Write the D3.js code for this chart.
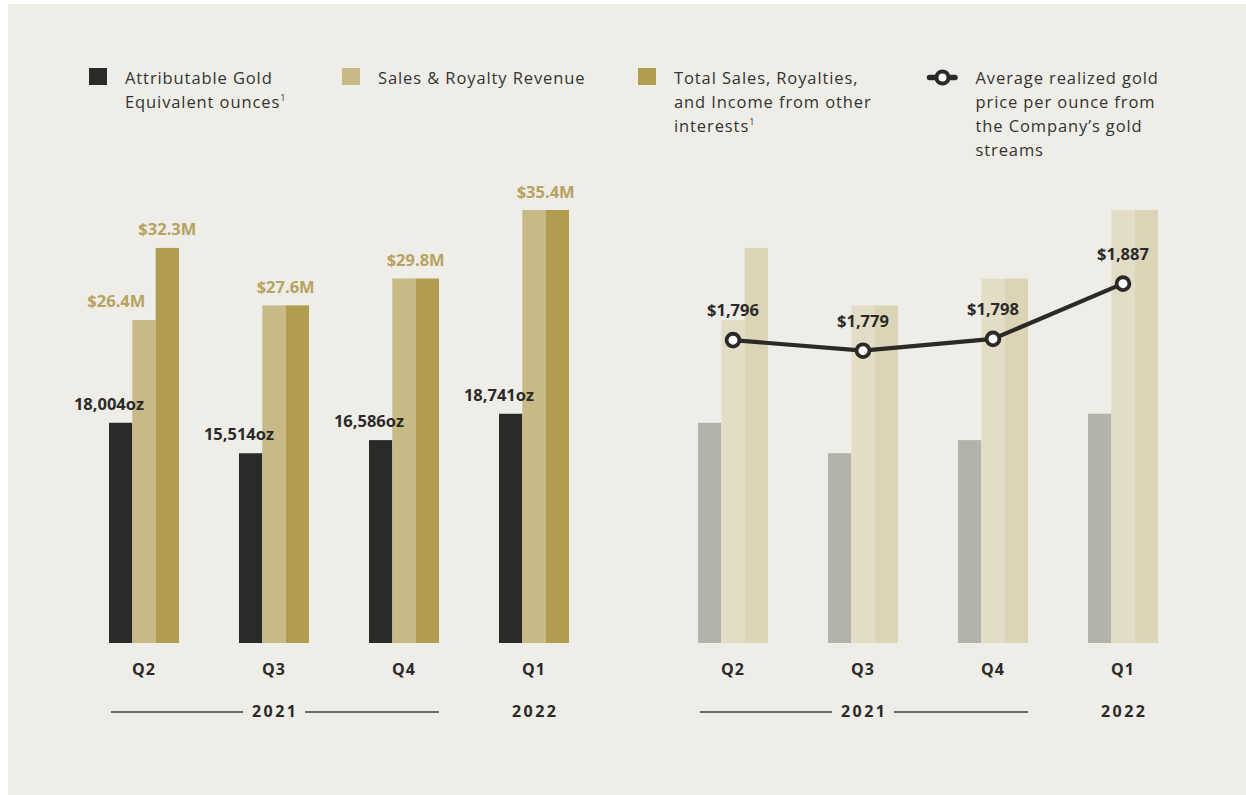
<!DOCTYPE html>
<html>
<head>
<meta charset="utf-8">
<script src="https://cdn.jsdelivr.net/npm/d3@7"></script>
<style>
  body { margin: 0; background: #fff; }
  svg { display: block; }
  text { font-family: "Open Sans", "Noto Sans", sans-serif; }
</style>
</head>
<body>
<svg id="chart" width="1246" height="795"></svg>
<script>
// data
var quarters = ["Q2", "Q3", "Q4", "Q1"];
var ounces = [18004, 15514, 16586, 18741];
var salesRoyalty = [26.4, 27.6, 29.8, 35.4];
var totalIncome = [32.3, 27.6, 29.8, 35.4];
var goldPrice = [1796, 1779, 1798, 1887];
var years = [
  { label: "2021", from: "Q2", to: "Q4", under: "Q3" },
  { label: "2022", from: null, to: null, under: "Q1" }
];
var legendItems = [
  { key: "oz", lines: ["Attributable Gold", "Equivalent ounces"], sup: true },
  { key: "rev", lines: ["Sales & Royalty Revenue"] },
  { key: "total", lines: ["Total Sales, Royalties,", "and Income from other", "interests"], sup: true },
  { key: "price", lines: ["Average realized gold", "price per ounce from", "the Company\u2019s gold", "streams"] }
];

var dark = "#2b2a28";
var labelGold = "#b6a35f";
var colours = {
  left: { oz: "#2b2a28", rev: "#c8ba86", total: "#b09d50" },
  right: { oz: "#b3b2ab", rev: "#e3ddc8", total: "#dbd5b6" }
};

var svg = d3.select("#chart");

// background panel
svg.append("rect")
  .attr("x", 8).attr("y", 4)
  .attr("width", 1238).attr("height", 791)
  .attr("fill", "#eeede8");

// scales
var baseline = 643;
var yRev = d3.scaleLinear().domain([0, 35.4]).range([baseline, 210]);
var yOz = d3.scaleLinear().domain([0, 35400]).range([baseline, 210]);
var yPrice = d3.scaleLinear().domain([1700, 1900]).range([399.7, 275.6]);
var inner = d3.scaleBand().domain(["oz", "rev", "total"]).range([0, 70]);

var panels = [
  { name: "left", x: d3.scaleBand().domain(quarters).range([109, 569]).paddingInner(60 / 130) },
  { name: "right", x: d3.scaleBand().domain(quarters).range([698, 1158]).paddingInner(60 / 130) }
];

panels.forEach(function(p) {
  var x = p.x;
  var col = colours[p.name];
  var g = svg.append("g");

  var groups = g.selectAll(".grp").data(quarters).enter().append("g")
    .attr("transform", function(d) { return "translate(" + x(d) + ",0)"; });

  groups.append("rect")
    .attr("x", inner("oz")).attr("width", inner.bandwidth())
    .attr("y", function(d, i) { return yOz(ounces[i]); })
    .attr("height", function(d, i) { return baseline - yOz(ounces[i]); })
    .attr("fill", col.oz);
  groups.append("rect")
    .attr("x", inner("rev")).attr("width", inner.bandwidth())
    .attr("y", function(d, i) { return yRev(salesRoyalty[i]); })
    .attr("height", function(d, i) { return baseline - yRev(salesRoyalty[i]); })
    .attr("fill", col.rev);
  groups.append("rect")
    .attr("x", inner("total")).attr("width", inner.bandwidth())
    .attr("y", function(d, i) { return yRev(totalIncome[i]); })
    .attr("height", function(d, i) { return baseline - yRev(totalIncome[i]); })
    .attr("fill", col.total);

  // quarter labels
  groups.append("text")
    .attr("x", x.bandwidth() / 2).attr("y", 675)
    .attr("text-anchor", "middle")
    .attr("font-size", 16).attr("font-weight", 700)
    .attr("letter-spacing", 1)
    .attr("fill", dark)
    .text(function(d) { return d; });

  // year labels with rules
  years.forEach(function(yr) {
    var cx = x(yr.under) + x.bandwidth() / 2;
    g.append("text")
      .attr("x", cx + 1.2).attr("y", 717)
      .attr("text-anchor", "middle")
      .attr("font-size", 16).attr("font-weight", 700)
      .attr("letter-spacing", 2.5)
      .attr("fill", dark)
      .text(yr.label);
    if (yr.from) {
      var x0 = x(yr.from) + 2, x1 = x(yr.to) + x.bandwidth();
      g.append("line").attr("x1", x0).attr("x2", cx - 31).attr("y1", 712).attr("y2", 712)
        .attr("stroke", "#3d3d3b").attr("stroke-width", 1.6);
      g.append("line").attr("x1", cx + 31).attr("x2", x1).attr("y1", 712).attr("y2", 712)
        .attr("stroke", "#3d3d3b").attr("stroke-width", 1.6);
    }
  });

  if (p.name === "left") {
    // ounce labels, centred on the left edge of the dark bar
    groups.append("text")
      .attr("x", inner("oz"))
      .attr("y", function(d, i) { return yOz(ounces[i]) - 13; })
      .attr("text-anchor", "middle")
      .attr("font-size", 16.5).attr("font-weight", 700)
      .attr("fill", dark)
      .text(function(d, i) { return d3.format(",")(ounces[i]) + "oz"; });

    // revenue labels
    groups.each(function(d, i) {
      var gg = d3.select(this);
      var fmt = function(v) { return "$" + d3.format(".1f")(v) + "M"; };
      if (salesRoyalty[i] !== totalIncome[i]) {
        gg.append("text")
          .attr("x", inner("rev") - 16)
          .attr("y", yRev(salesRoyalty[i]) - 13)
          .attr("text-anchor", "middle")
          .attr("font-size", 16.5).attr("font-weight", 700)
          .attr("fill", labelGold).text(fmt(salesRoyalty[i]));
        gg.append("text")
          .attr("x", inner("total") + inner.bandwidth() / 2)
          .attr("y", yRev(totalIncome[i]) - 12.5)
          .attr("text-anchor", "middle")
          .attr("font-size", 16.5).attr("font-weight", 700)
          .attr("fill", labelGold).text(fmt(totalIncome[i]));
      } else {
        gg.append("text")
          .attr("x", inner("rev") + inner.bandwidth())
          .attr("y", yRev(totalIncome[i]) - 12.5)
          .attr("text-anchor", "middle")
          .attr("font-size", 16.5).attr("font-weight", 700)
          .attr("fill", labelGold).text(fmt(totalIncome[i]));
      }
    });
  } else {
    // gold price line
    var cx = function(d, i) { return x(quarters[i]) + x.bandwidth() / 2; };
    var line = d3.line()
      .x(function(d, i) { return cx(d, i); })
      .y(function(d) { return yPrice(d); });
    g.append("path")
      .datum(goldPrice)
      .attr("d", line)
      .attr("fill", "none")
      .attr("stroke", dark)
      .attr("stroke-width", 4.2)
      .attr("stroke-linejoin", "round");
    g.selectAll(".pt").data(goldPrice).enter().append("circle")
      .attr("cx", cx).attr("cy", function(d) { return yPrice(d); })
      .attr("r", 6.4)
      .attr("fill", "#fff")
      .attr("stroke", dark)
      .attr("stroke-width", 3.8);
    g.selectAll(".pl").data(goldPrice).enter().append("text")
      .attr("x", cx).attr("y", function(d) { return yPrice(d) - 24; })
      .attr("text-anchor", "middle")
      .attr("font-size", 16.5).attr("font-weight", 700)
      .attr("fill", dark)
      .text(function(d) { return "$" + d3.format(",")(d); });
  }
});

// legend
var legendX = [89, 342, 638, 927];
var legend = svg.append("g");
legendItems.forEach(function(item, k) {
  var lg = legend.append("g").attr("transform", "translate(" + legendX[k] + ",0)");
  if (item.key === "price") {
    lg.append("line").attr("x1", 2.5).attr("x2", 28).attr("y1", 77.5).attr("y2", 77.5)
      .attr("stroke", dark).attr("stroke-width", 5.5).attr("stroke-linecap", "round");
    lg.append("circle").attr("cx", 15.5).attr("cy", 77.5).attr("r", 6)
      .attr("fill", "#fff").attr("stroke", dark).attr("stroke-width", 4);
  } else {
    lg.append("rect").attr("x", 0).attr("y", 68).attr("width", 18).attr("height", 17)
      .attr("fill", colours.left[item.key]);
  }
  var tx = item.key === "price" ? 48.5 : 36;
  item.lines.forEach(function(ln, j) {
    var t = lg.append("text")
      .attr("x", tx).attr("y", 84 + j * 24)
      .attr("font-size", 16.5)
      .attr("letter-spacing", 0.9)
      .attr("fill", "#333331")
      .text(ln);
    if (item.sup && j === item.lines.length - 1) {
      t.append("tspan").attr("font-size", 9).attr("dy", -7).text("1");
    }
  });
});
</script>
</body>
</html>
